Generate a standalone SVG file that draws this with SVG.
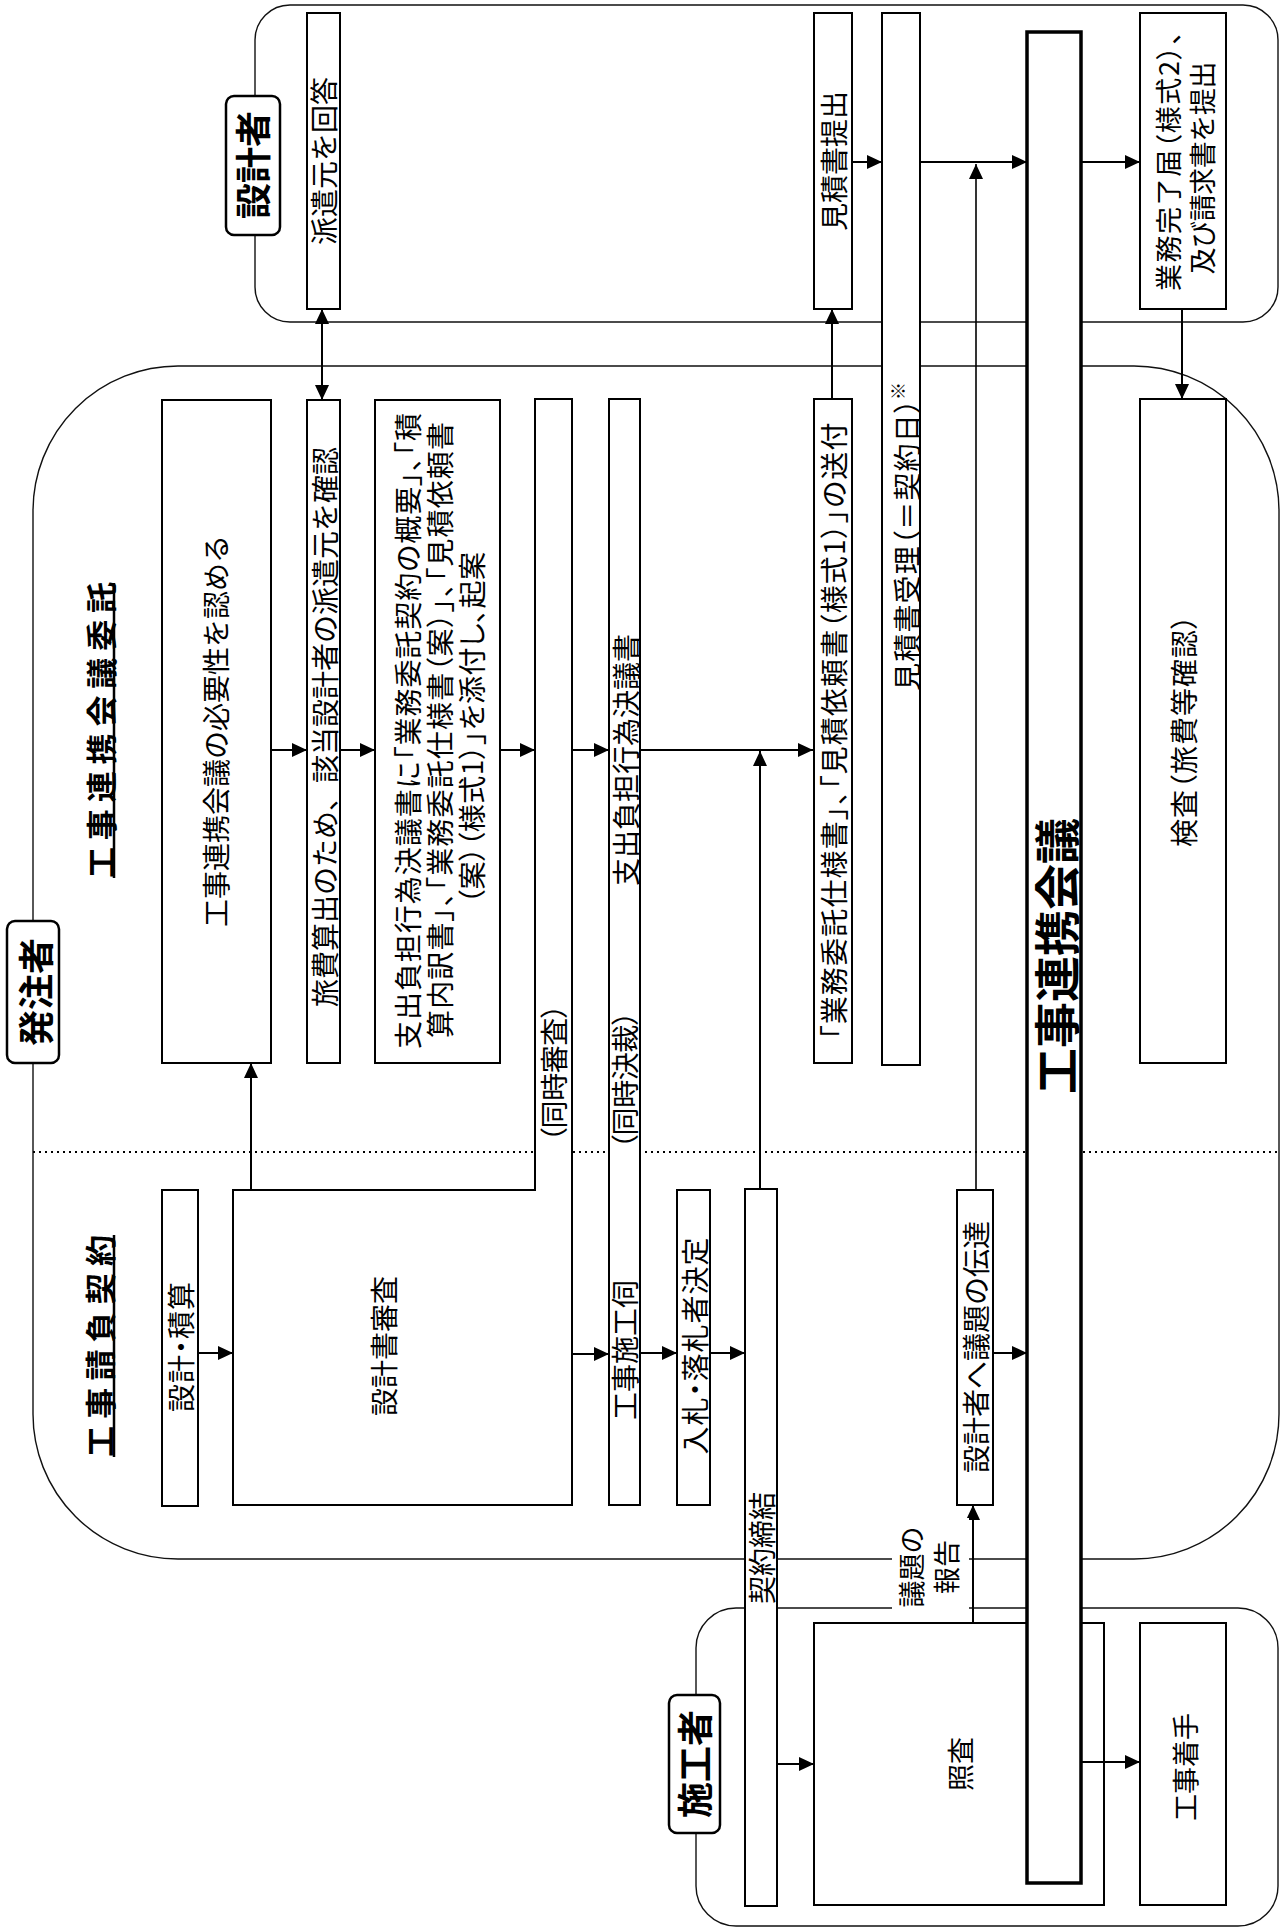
<svg xmlns="http://www.w3.org/2000/svg" width="1281" height="1930" viewBox="0 0 1281 1930">
<style>
.bg{fill:#fff}
.region{fill:none;stroke:#111;stroke-width:1.4}
.box{fill:#fff;stroke:#000;stroke-width:2}
.big{fill:#fff;stroke:#000;stroke-width:3.5}
.lab{fill:#fff;stroke:#000;stroke-width:2.5}
.t{font-family:"Noto Sans CJK JP","Noto Sans CJK SC",sans-serif;font-size:28px;text-anchor:middle;dominant-baseline:central;fill:#000}
.p{font-feature-settings:"palt" 1}
.b{font-weight:700}
.h{font-size:31px;font-weight:700}
.lb{font-size:36px;font-weight:700}
.c{fill:none;stroke:#000;stroke-width:2;marker-end:url(#ah)}
.dot{stroke:#000;stroke-width:2;stroke-dasharray:2 4;fill:none}
.ul{stroke:#000;stroke-width:2.5}
</style>
<defs>
<marker id="ah" markerUnits="userSpaceOnUse" markerWidth="15" markerHeight="14" refX="15" refY="7" orient="auto-start-reverse">
<path d="M0,0 L15,7 L0,14 z" fill="#000"/>
</marker>
</defs>
<rect class="bg" x="0" y="0" width="1281" height="1930"/>

<g id="regions">
<rect class="region" x="255" y="5" width="1023" height="317" rx="35"/>
<rect class="region" x="33" y="366" width="1246" height="1193" rx="145"/>
<rect class="region" x="696" y="1608" width="582" height="318" rx="40"/>
<path class="dot" d="M33,1152 H1279"/>
</g>

<g id="headings">
<text class="t h" x="99" y="730" transform="rotate(-90 99 730)" textLength="296">工事連携会議委託</text>
<line class="ul" x1="114" y1="583" x2="114" y2="878"/>
<text class="t h" x="98" y="1346" transform="rotate(-90 98 1346)" textLength="222">工事請負契約</text>
<line class="ul" x1="114" y1="1235" x2="114" y2="1457"/>
</g>

<g id="n-hitsuyosei">
<rect class="box" x="162" y="400" width="109" height="663"/>
<text class="t" x="215" y="731" transform="rotate(-90 215 731)">工事連携会議の必要性を認める</text>
</g>
<g id="n-ryohi">
<rect class="box" x="307" y="400" width="33" height="663"/>
<text class="t" x="323.5" y="727" transform="rotate(-90 323.5 727)">旅費算出のため、該当設計者の派遣元を確認</text>
</g>
<g id="n-kian">
<rect class="box" x="375" y="400" width="125" height="663"/>
<text class="t p" x="407" y="731" transform="rotate(-90 407 731)" textLength="636">支出負担行為決議書に「業務委託契約の概要」、「積</text>
<text class="t p" x="439" y="730" transform="rotate(-90 439 730)" textLength="616">算内訳書」、「業務委託仕様書（案）」、「見積依頼書</text>
<text class="t p" x="471" y="728" transform="rotate(-90 471 728)" textLength="352">（案）（様式1）」を添付し、起案</text>
</g>
<g id="n-shinsa">
<polygon class="box" points="233,1190 535,1190 535,399 572,399 572,1505 233,1505"/>
<text class="t" x="383" y="1346" transform="rotate(-90 383 1346)">設計書審査</text>
<text class="t p" x="553" y="1073" transform="rotate(-90 553 1073)" textLength="138">（同時審査）</text>
</g>
<g id="n-shishutsu">
<rect class="box" x="609" y="399" width="31" height="1106"/>
<text class="t" x="625" y="760" transform="rotate(-90 625 760)">支出負担行為決議書</text>
<text class="t p" x="624" y="1080" transform="rotate(-90 624 1080)" textLength="138">（同時決裁）</text>
<text class="t" x="624" y="1350" transform="rotate(-90 624 1350)">工事施工伺</text>
</g>
<g id="n-sofu">
<rect class="box" x="814" y="399" width="38" height="664"/>
<text class="t p" x="833" y="731" transform="rotate(-90 833 731)" textLength="617">「業務委託仕様書」、「見積依頼書（様式1）」の送付</text>
</g>
<g id="n-kensa">
<rect class="box" x="1140" y="399" width="86" height="664"/>
<text class="t p" x="1183" y="731" transform="rotate(-90 1183 731)" textLength="232">検査（旅費等確認）</text>
</g>
<g id="n-sekkei-sekisan">
<rect class="box" x="162" y="1190" width="36" height="316"/>
<text class="t p" x="180" y="1347" transform="rotate(-90 180 1347)" textLength="130">設計・積算</text>
</g>
<g id="n-nyusatsu">
<rect class="box" x="677" y="1190" width="33" height="315"/>
<text class="t p" x="694" y="1346" transform="rotate(-90 694 1346)" textLength="217">入札・落札者決定</text>
</g>
<g id="n-keiyaku">
<rect class="box" x="745" y="1189" width="32" height="717"/>
<text class="t" x="761" y="1548" transform="rotate(-90 761 1548)">契約締結</text>
</g>
<g id="n-dentatsu">
<rect class="box" x="957" y="1190" width="36" height="315"/>
<text class="t" x="975" y="1347" transform="rotate(-90 975 1347)">設計者へ議題の伝達</text>
</g>
<g id="n-haken">
<rect class="box" x="307" y="13" width="33" height="296"/>
<text class="t" x="323" y="161" transform="rotate(-90 323 161)">派遣元を回答</text>
</g>
<g id="n-teishutsu">
<rect class="box" x="814" y="13" width="38" height="296"/>
<text class="t" x="833" y="161" transform="rotate(-90 833 161)">見積書提出</text>
</g>
<g id="n-juri">
<rect class="box" x="882" y="13" width="38" height="1052"/>
<text class="t p" x="906" y="545" transform="rotate(-90 906 545)" textLength="292">見積書受理（＝契約日）</text>
<text class="t" x="897" y="391" transform="rotate(-90 897 391)" style="font-size:18px">※</text>
</g>
<g id="n-kanryo">
<rect class="box" x="1140" y="13" width="86" height="296"/>
<text class="t p" x="1167" y="161" transform="rotate(-90 1167 161)" textLength="260" style="font-size:27px">業務完了届（様式2）、</text>
<text class="t" x="1201" y="168" transform="rotate(-90 1201 168)" textLength="213" style="font-size:27px">及び請求書を提出</text>
</g>
<g id="n-shosa">
<rect class="box" x="814" y="1623" width="290" height="282"/>
<text class="t" x="959" y="1764" transform="rotate(-90 959 1764)" style="font-size:27px">照査</text>
</g>
<g id="n-chakushu">
<rect class="box" x="1140" y="1623" width="86" height="282"/>
<text class="t" x="1184" y="1767" transform="rotate(-90 1184 1767)" style="font-size:27px">工事着手</text>
</g>
<g id="n-kaigi">
<rect class="big" x="1027" y="32" width="54" height="1851"/>
<text class="t b" x="1054" y="956" transform="rotate(-90 1054 956)" style="font-size:46px">工事連携会議</text>
</g>

<g id="connectors">
<path class="c" d="M322,309 V400" marker-start="url(#ah)"/>
<path class="c" d="M271,750 H307"/>
<path class="c" d="M340,750 H375"/>
<path class="c" d="M500,750 H535"/>
<path class="c" d="M572,750 H609"/>
<path class="c" d="M640,750 H813"/>
<path class="c" d="M760,1189 V751"/>
<path class="c" d="M832,399 V309"/>
<path class="c" d="M852,162 H882"/>
<path class="c" d="M920,162 H1027"/>
<path class="c" d="M976,1190 V164" style="stroke-width:1.6"/>
<path class="c" d="M1081,162 H1140"/>
<path class="c" d="M1182,309 V399"/>
<path class="c" d="M198,1353 H233"/>
<path class="c" d="M251,1190 V1063"/>
<path class="c" d="M572,1354 H609"/>
<path class="c" d="M640,1353 H677"/>
<path class="c" d="M710,1353 H745"/>
<path class="c" d="M993,1353 H1027"/>
<path class="c" d="M973,1623 V1505"/>
<path class="c" d="M777,1764 H814"/>
<path class="c" d="M1081,1762 H1140"/>
</g>

<g id="n-hokoku">
<rect class="bg" x="892" y="1518" width="77" height="96"/>
<text class="t" x="910" y="1567" transform="rotate(-90 910 1567)" style="font-size:27px">議題の</text>
<text class="t" x="945" y="1567" transform="rotate(-90 945 1567)" style="font-size:27px">報告</text>
</g>

<g id="labels">
<g id="l-sekkeisha">
<rect class="lab" x="226" y="96" width="54" height="139" rx="8"/>
<text class="t lb" x="251" y="165" transform="rotate(-90 251 165)">設計者</text>
</g>
<g id="l-hachusha">
<rect class="lab" x="7" y="921" width="52" height="142" rx="8"/>
<text class="t lb" x="34" y="992" transform="rotate(-90 34 992)">発注者</text>
</g>
<g id="l-sekosha">
<rect class="lab" x="669" y="1695" width="51" height="138" rx="8"/>
<text class="t lb" x="693" y="1764" transform="rotate(-90 693 1764)">施工者</text>
</g>
</g>
</svg>
